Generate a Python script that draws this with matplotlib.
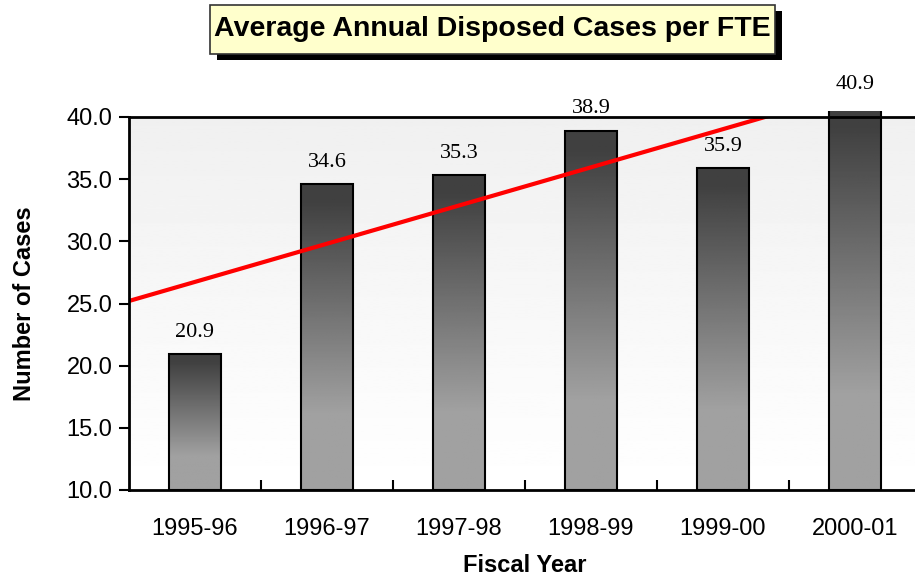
import numpy as np
import matplotlib
matplotlib.use("Agg")
import matplotlib.pyplot as plt
from matplotlib.patches import Rectangle

years = ["1995-96", "1996-97", "1997-98", "1998-99", "1999-00", "2000-01"]
cases = [20.9, 34.6, 35.3, 38.9, 35.9, 40.9]

plt.rcParams['font.family'] = ['Liberation Sans', 'DejaVu Sans']

W, H = 915, 579
fig = plt.figure(figsize=(W / 100, H / 100), dpi=100)
ax = fig.add_axes([129 / W, 1 - 490 / H, 792 / W, 373 / H])

x = np.arange(len(years))
ax.set_xlim(-0.5, len(years) - 0.5)
ax.set_ylim(10, 40)

# plot area background: light grey at top fading to white
bg = np.linspace(0.94, 1.0, 256).reshape(-1, 1)
ax.imshow(bg, cmap="gray", vmin=0, vmax=1, aspect="auto",
          extent=[-0.5, len(years) - 0.5, 10, 40], zorder=0)

# gradient bars, dark at top to light grey at bottom
t = np.linspace(0, 1, 256)
shade = np.interp(t, [0, 0.05, 0.75, 1], [0.25, 0.25, 0.63, 0.63]).reshape(-1, 1)
clip = Rectangle((0, 0), 1, 1.017, transform=ax.transAxes, facecolor="none", edgecolor="none")
ax.add_patch(clip)
w = 0.39
for xi, v in zip(x, cases):
    im = ax.imshow(shade, cmap="gray", vmin=0, vmax=1, aspect="auto",
                   extent=[xi - w / 2, xi + w / 2, 10, v], zorder=2)
    im.set_clip_path(clip)
    r = Rectangle((xi - w / 2, 10), w, v - 10, facecolor="none",
                  edgecolor="black", linewidth=1.5, zorder=3)
    ax.add_patch(r)
    r.set_clip_path(clip)
    ax.text(xi, v + 1.75, f"{v:.1f}", ha="center", va="center",
            fontsize=16, family=["Liberation Serif"], zorder=5, clip_on=False)

# linear trend line
k, b = np.polyfit(x, cases, 1)
xs = np.array([-0.5, len(years) - 0.5])
ax.plot(xs, k * xs + b, color="red", linewidth=3, zorder=4)

ax.set_xticks(x)
ax.set_xticklabels(years, fontsize=17)
ax.set_xticks(np.arange(0.5, len(years) - 0.5, 1), minor=True)
ax.tick_params(axis="x", which="major", length=0, pad=20)
ax.tick_params(axis="x", which="minor", direction="in", length=7, width=1.5)
ax.set_yticks(np.arange(10, 41, 5))
ax.set_yticklabels([f"{v:.1f}" for v in np.arange(10, 41, 5)], fontsize=17)
ax.tick_params(axis="y", direction="out", length=7, width=1.5, pad=5)

for s in ax.spines.values():
    s.set_linewidth(2)
    s.set_zorder(6)

ax.set_xlabel("Fiscal Year", fontsize=17, fontweight="bold", labelpad=10)
ax.set_ylabel("Number of Cases", fontsize=17, fontweight="bold", labelpad=22)

# title box with drop shadow
bx0, bx1, by0, by1 = 210, 775, 5, 54
fig.patches.append(Rectangle(((bx0 + 7) / W, 1 - (by1 + 6) / H), (bx1 - bx0) / W, (by1 - by0) / H,
                             transform=fig.transFigure, facecolor="black", edgecolor="none"))
fig.patches.append(Rectangle((bx0 / W, 1 - by1 / H), (bx1 - bx0) / W, (by1 - by0) / H,
                             transform=fig.transFigure, facecolor="#ffffcc", edgecolor="#333333",
                             linewidth=1.2))
fig.text((bx0 + bx1) / 2 / W, 1 - (by0 + by1) / 2 / H, "Average Annual Disposed Cases per FTE",
         ha="center", va="center", fontsize=20.5, fontweight="bold")

fig.savefig("out.png", dpi=100)
